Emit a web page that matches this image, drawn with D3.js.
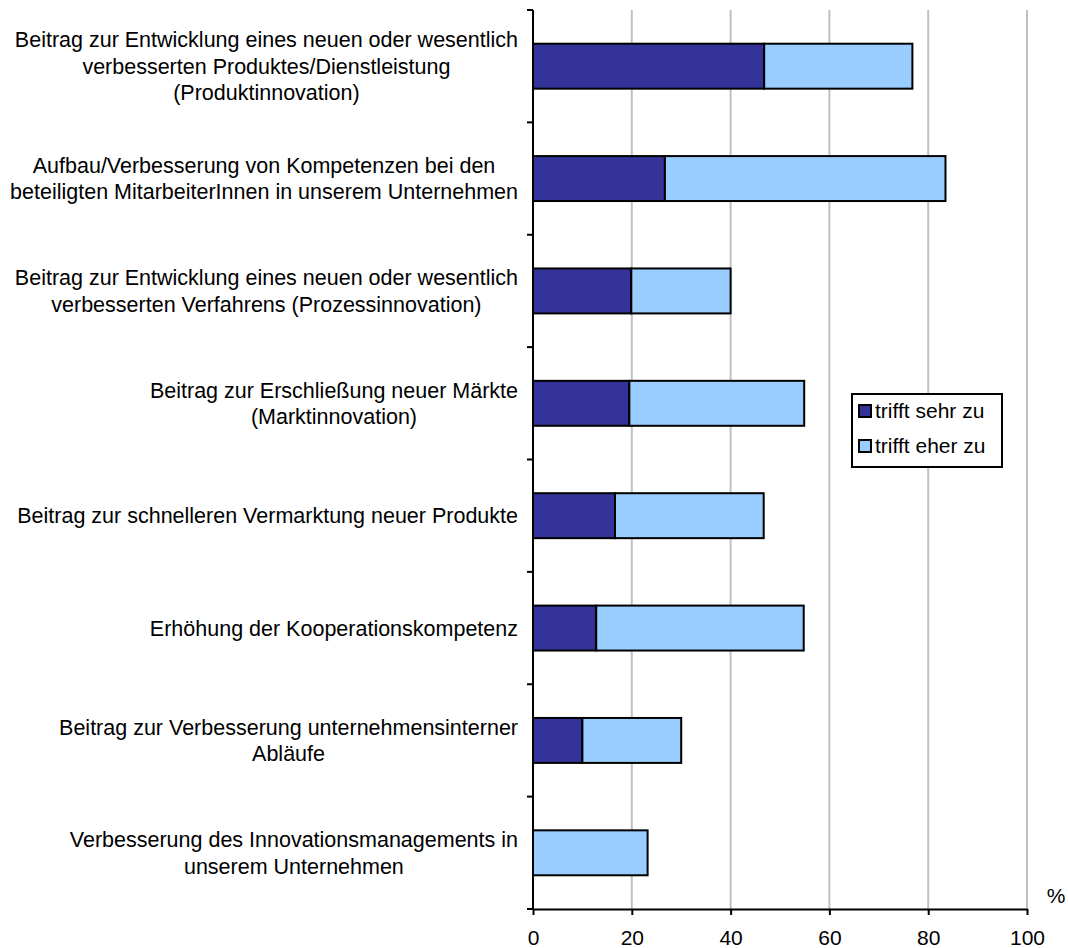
<!DOCTYPE html>
<html><head><meta charset="utf-8">
<script src="https://cdn.jsdelivr.net/npm/d3@7"></script>
<style>body{margin:0;background:#fff}svg{display:block}text{font-family:"Liberation Sans",Arial,sans-serif;fill:#000}</style>
</head><body><svg id="c" width="1068" height="948"></svg>
<script>
const categories = [
  ["Beitrag zur Entwicklung eines neuen oder wesentlich","verbesserten Produktes/Dienstleistung","(Produktinnovation)"],
  ["Aufbau/Verbesserung von Kompetenzen bei den","beteiligten MitarbeiterInnen in unserem Unternehmen"],
  ["Beitrag zur Entwicklung eines neuen oder wesentlich","verbesserten Verfahrens (Prozessinnovation)"],
  ["Beitrag zur Erschließung neuer Märkte","(Marktinnovation)"],
  ["Beitrag zur schnelleren Vermarktung neuer Produkte"],
  ["Erhöhung der Kooperationskompetenz"],
  ["Beitrag zur Verbesserung unternehmensinterner","Abläufe"],
  ["Verbesserung des Innovationsmanagements in","unserem Unternehmen"]
];
const sehrZu = [46.8, 26.7, 19.9, 19.5, 16.6, 12.8, 10.0, 0];
const eherZu = [30.0, 56.8, 20.1, 35.4, 30.1, 42.0, 20.0, 23.2];
const seriesNames = ["trifft sehr zu", "trifft eher zu"];
const colors = ["#333399", "#99ccff"];
const xTicks = [0, 20, 40, 60, 80, 100];

const svg = d3.select("#c");
const x = d3.scaleLinear().domain([0, 100]).range([533, 1027]);
const y = d3.scaleBand().domain(d3.range(categories.length)).range([10, 909]).paddingInner(0.6).paddingOuter(0.3);
const yb = d3.scaleBand().domain(d3.range(categories.length)).range([10, 909]);

// gridlines
svg.append("g").selectAll("line").data(xTicks.slice(1)).join("line")
  .attr("x1", d => x(d)).attr("x2", d => x(d)).attr("y1", 10).attr("y2", 909)
  .attr("stroke", "#c0c0c0").attr("stroke-width", 2);

// bars
const rows = categories.map((c, i) => ({i, a: sehrZu[i], b: eherZu[i]}));
const stack = d3.stack().keys(["a", "b"])(rows);
stack.forEach((s, k) => {
  svg.append("g").selectAll("rect").data(s.filter(d => d[1] - d[0] > 0)).join("rect")
    .attr("x", d => x(d[0])).attr("width", d => x(d[1]) - x(d[0]))
    .attr("y", d => y(d.data.i)).attr("height", y.bandwidth())
    .attr("fill", colors[k]).attr("stroke", "#000").attr("stroke-width", 2);
});

// y axis
const ay = svg.append("g");
ay.append("line").attr("x1", 533).attr("x2", 533).attr("y1", 10).attr("y2", 910).attr("stroke", "#000").attr("stroke-width", 2);
const bounds = d3.range(categories.length + 1).map(i => i < categories.length ? yb(i) : 909);
ay.selectAll("line.t").data(bounds).join("line").attr("class", "t")
  .attr("x1", 527).attr("x2", 533).attr("y1", d => d).attr("y2", d => d).attr("stroke", "#000").attr("stroke-width", 2);

// x axis
const xa = svg.append("g").attr("transform", "translate(0,909)")
  .call(d3.axisBottom(x).tickValues(xTicks).tickSize(6).tickPadding(15).tickSizeOuter(0));
xa.select(".domain").attr("stroke", "#000").attr("stroke-width", 2);
xa.selectAll(".tick line").attr("stroke", "#000").attr("stroke-width", 2);
xa.selectAll(".tick text").attr("font-size", 21).attr("font-family", "Liberation Sans, Arial, sans-serif").attr("fill", "#000");
svg.append("text").attr("x", 1056).attr("y", 903).attr("text-anchor", "middle").attr("font-size", 21).text("%");

// category labels
const fs = 21.5, lh = 26.5, rightEdge = 518;
categories.forEach((lines, i) => {
  const g = svg.append("g");
  const cy = yb(i) + yb.bandwidth() / 2;
  const texts = lines.map((l, j) => g.append("text").attr("font-size", fs).attr("text-anchor", "middle")
    .attr("y", cy + (j - (lines.length - 1) / 2) * lh).attr("dy", "0.35em").text(l));
  const w = d3.max(texts, t => t.node().getComputedTextLength());
  texts.forEach(t => t.attr("x", rightEdge - w / 2));
});

// legend
const lg = svg.append("g");
lg.append("rect").attr("x", 852).attr("y", 394).attr("width", 150).attr("height", 73).attr("fill", "#fff").attr("stroke", "#000").attr("stroke-width", 2);
seriesNames.forEach((n, k) => {
  const yy = 411 + k * 35;
  lg.append("rect").attr("x", 859).attr("y", yy - 6).attr("width", 12).attr("height", 12).attr("fill", colors[k]).attr("stroke", "#000").attr("stroke-width", 2);
  lg.append("text").attr("x", 875).attr("y", yy).attr("dy", "0.35em").attr("font-size", 21).text(n);
});
</script></body></html>
